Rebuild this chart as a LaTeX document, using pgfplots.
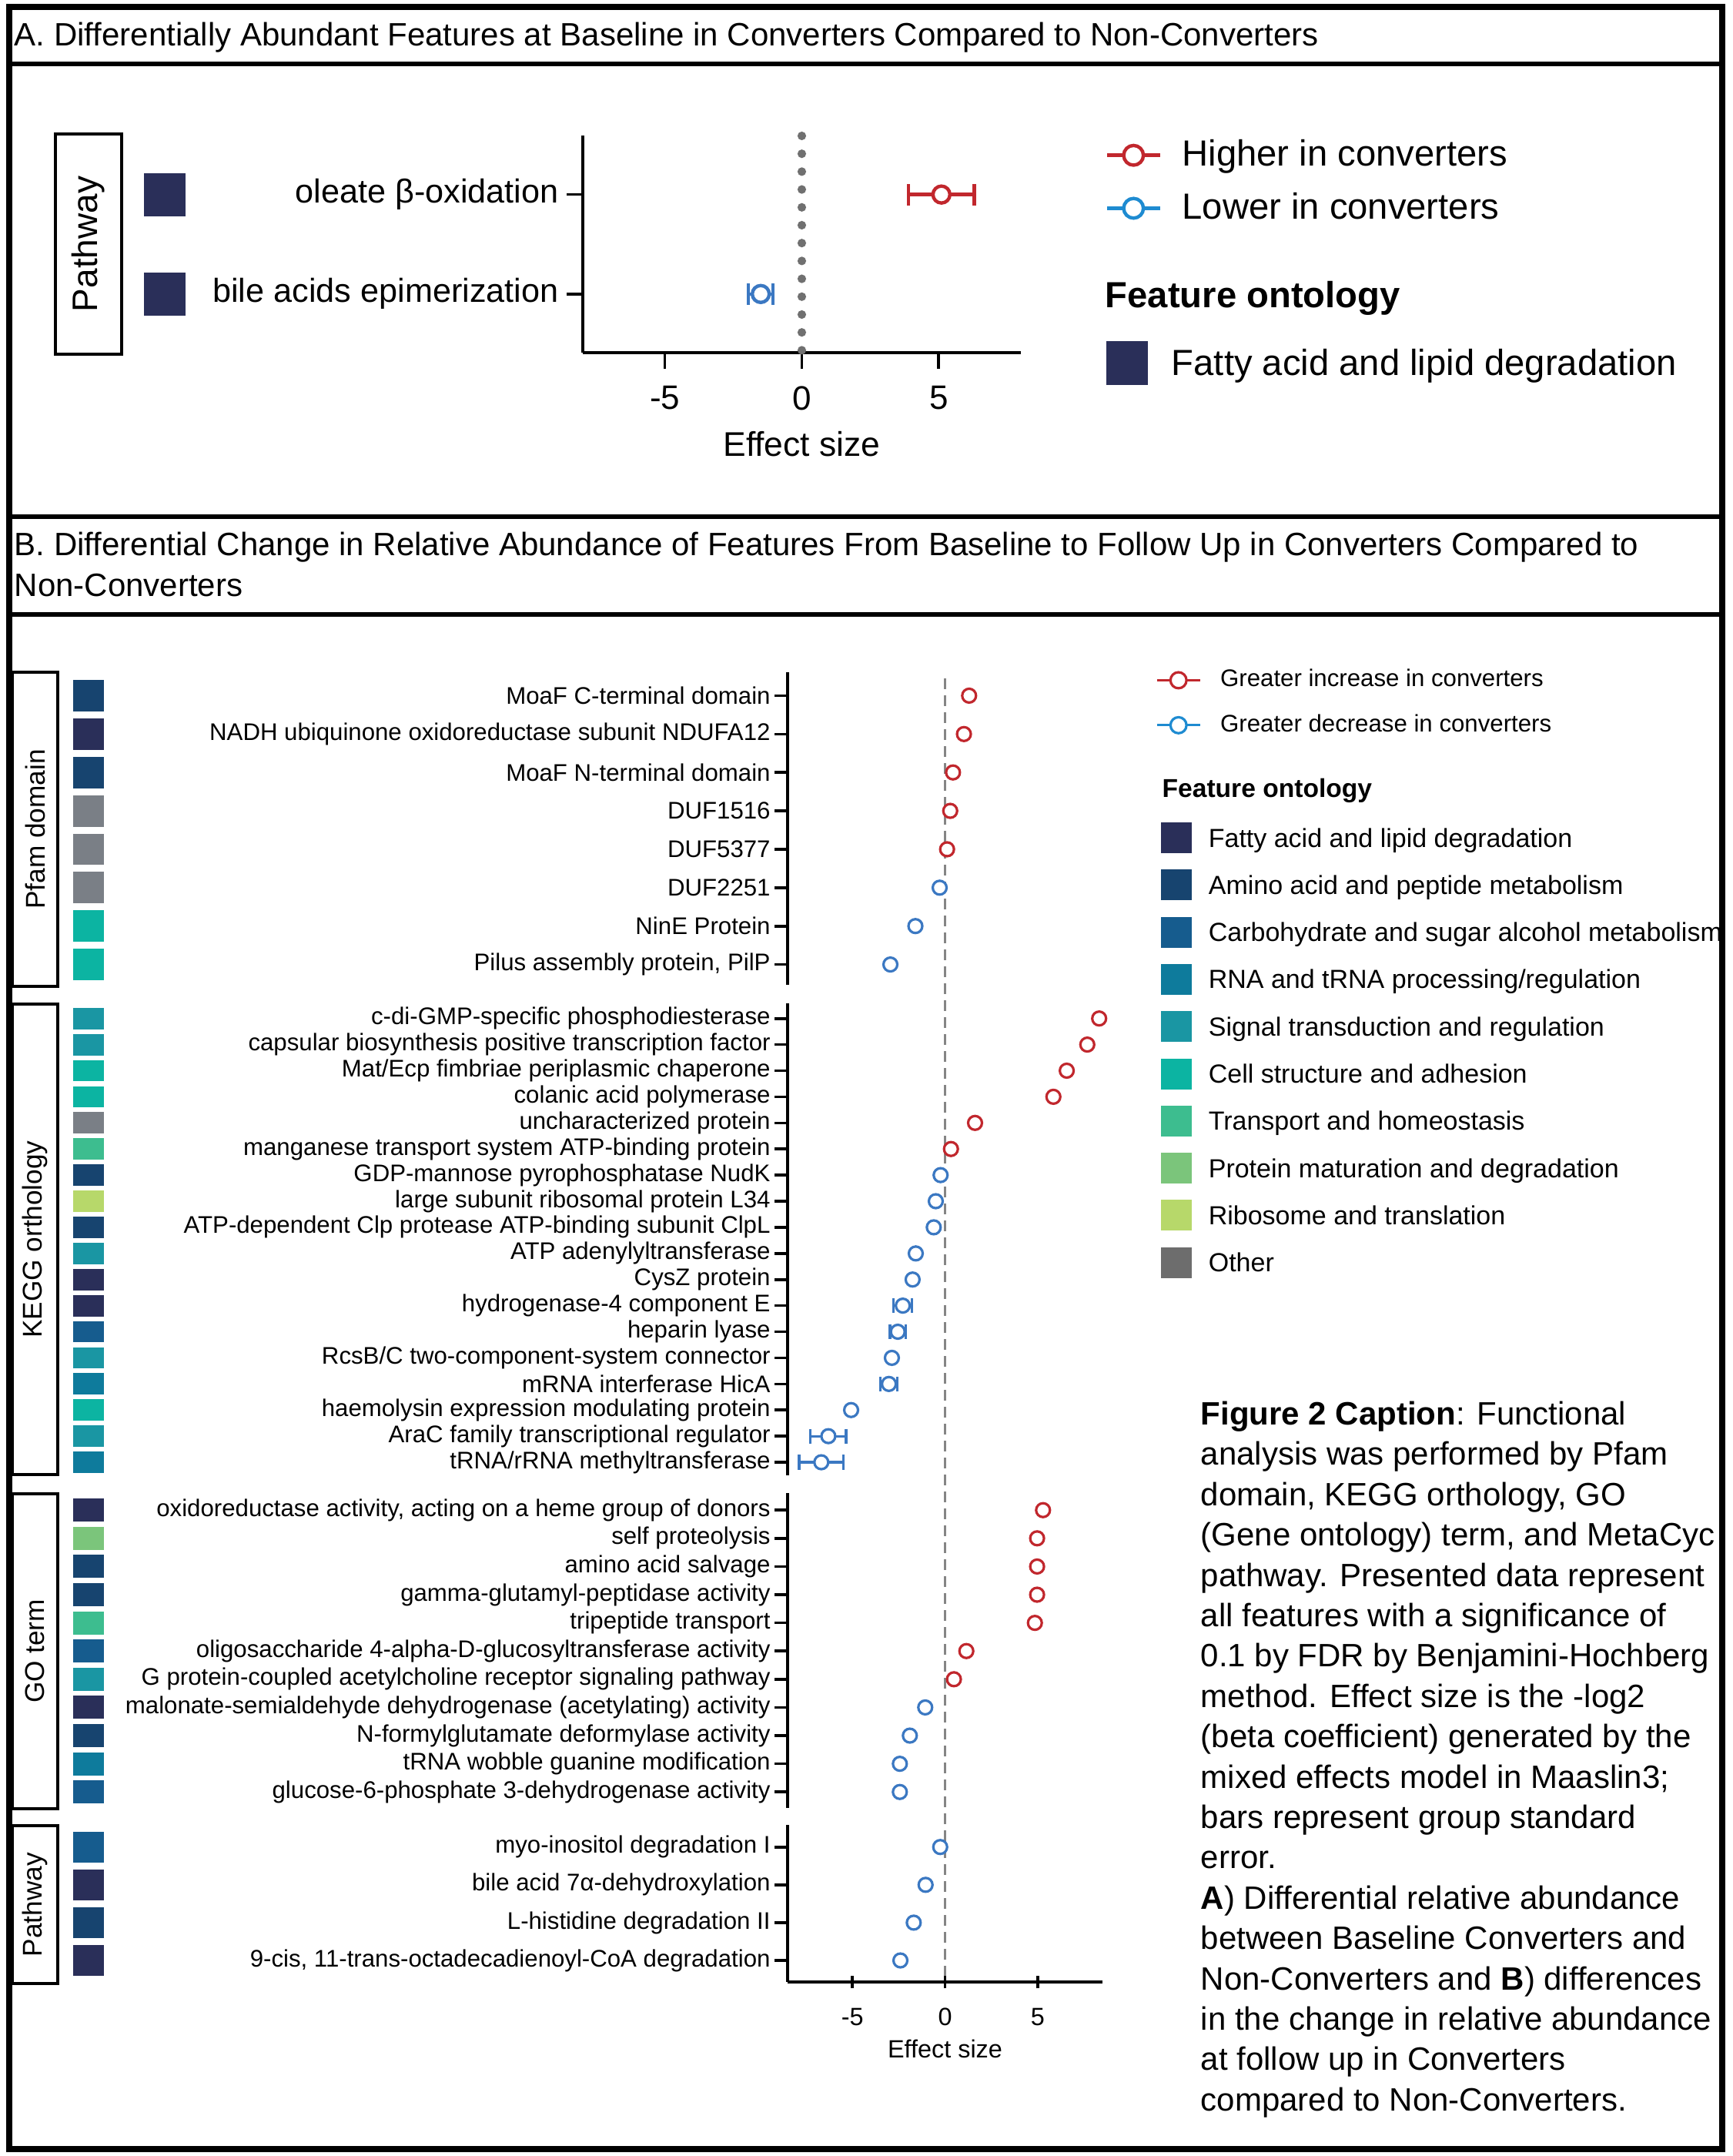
\documentclass[border=0pt]{standalone}
\usepackage{fontspec}
\setmainfont{Liberation Sans}
\usepackage{pgfplots}
\pgfplotsset{compat=1.18}
\definecolor{cred}{HTML}{C1272D}
\definecolor{cblue}{HTML}{3B78C2}
\definecolor{lblue}{HTML}{1E8BD1}
\definecolor{fat}{HTML}{2A2F59}
\definecolor{ami}{HTML}{17446F}
\definecolor{car}{HTML}{165C8E}
\definecolor{rna}{HTML}{0E7B9C}
\definecolor{sig}{HTML}{1A96A3}
\definecolor{cel}{HTML}{0CB4A2}
\definecolor{tra}{HTML}{3DBD8F}
\definecolor{pro}{HTML}{7BC57B}
\definecolor{rib}{HTML}{B7D86A}
\definecolor{oth}{HTML}{7A7F86}
\definecolor{othl}{HTML}{6D6D6D}
\definecolor{dgray}{HTML}{858585}
\definecolor{dotg}{HTML}{707070}
\newcommand{\fs}[2]{\fontsize{#1}{#2}\selectfont}
\newcommand{\swatches}[1]{\foreach \cc [count=\k] in {#1}{\pgfmathsetmacro\ya{\k-0.41}\pgfmathsetmacro\yb{\k+0.41}\edef\tmp{\noexpand\fill[\cc] (axis cs:-47.07,\ya) rectangle (axis cs:-45.41,\yb);}\tmp}}
\pgfplotsset{
 baxis/.style={scale only axis, width=102.25pt, xmin=-8.5, xmax=8.5, clip=false,
   axis y line=left,
   tick align=outside, major tick length=4.2pt, tick style={line width=0.9pt, black},
   yticklabel style={font=\fs{7.8}{9}, inner sep=1.2pt}, anchor=north west},
 upm/.style={only marks, mark=*, mark size=2.25pt, mark options={draw=cred, fill=white, line width=0.8pt}, forget plot},
 dnm/.style={only marks, mark=*, mark size=2.25pt, mark options={draw=cblue, fill=white, line width=0.8pt}, forget plot},
 dnerr/.style={error bars/.cd, x dir=both, x explicit, error mark=|, error bar style={cblue, line width=0.8pt}, error mark options={cblue, line width=0.8pt, mark size=2.4pt}},
}
\begin{document}
\begin{tikzpicture}[x=1pt,y=1pt]
\useasboundingbox (0,0) rectangle (562.5,-700);

% ---------- titles ----------
\node[anchor=base west, inner sep=0, font=\fs{10.5}{12}] at (4.5,-15) {A. Differentially Abundant Features at Baseline in Converters Compared to Non-Converters};
\node[anchor=base west, inner sep=0, font=\fs{10.5}{12}] at (4.5,-180.4) {B. Differential Change in Relative Abundance of Features From Baseline to Follow Up in Converters Compared to};
\node[anchor=base west, inner sep=0, font=\fs{10.5}{12}] at (4.5,-193.75) {Non-Converters};

% ---------- Panel A ----------
\draw[line width=1.2pt] (18,-43.5) rectangle (39.5,-115);
\node[rotate=90, font=\fs{11.5}{13}] at (28.75,-79.25) {Pathway};

\begin{axis}[scale only axis, at={(189.25pt,-44.125pt)}, anchor=north west,
  width=142.25pt, height=70.375pt, xmin=-8, xmax=8, ymin=0.41, ymax=2.59, clip=false,
  axis x line=bottom, axis y line=left,
  tick align=outside, major tick length=5.2pt, tick style={line width=0.9pt, black},
  ytick={1,2}, yticklabels={bile acids epimerization, oleate β-oxidation},
  yticklabel style={font=\fs{10.8}{12}, inner sep=2.5pt},
  xtick={-5,0,5}, xticklabels={-5,0,5}, xticklabel style={font=\fs{11}{13}, yshift=-2.1pt},
  xlabel={Effect size}, xlabel style={font=\fs{11.1}{13}, at={(axis description cs:0.5,-0.478)}, anchor=base, inner sep=0pt},
  legend style={at={(axis description cs:1.1916,0.9847)}, anchor=north west, draw=none, fill=none, inner sep=0pt,
    font=\fs{11.8}{14}, row sep=7.15pt, nodes={inner sep=0pt}, /tikz/every odd column/.append style={column sep=6.6pt}},
  legend cell align=left,
  axis line style={-, line width=0.9pt}]
\draw[dotg, line width=2.8pt, line cap=round, dash pattern=on 0pt off 5.8pt] (axis cs:0,2.59) -- (axis cs:0,0.41);
\fill[fat] (axis cs:-24.04,1.783) rectangle (axis cs:-22.51,2.217);
\fill[fat] (axis cs:-24.04,0.783) rectangle (axis cs:-22.51,1.217);
\addplot[only marks, mark=*, mark size=2.75pt, mark options={draw=cred, fill=white, line width=1.1pt}, forget plot,
  error bars/.cd, x dir=both, x explicit, error mark=|, error bar style={cred, line width=1.1pt}, error mark options={cred, line width=1.1pt, mark size=3.5pt}]
  coordinates {(5.1,2) +- (1.2,0)};
\addplot[only marks, mark=*, mark size=2.75pt, mark options={draw=cblue, fill=white, line width=1.1pt}, forget plot,
  error bars/.cd, x dir=both, x explicit, error mark=|, error bar style={cblue, line width=1.1pt}, error mark options={cblue, line width=1.1pt, mark size=3.5pt}]
  coordinates {(-1.5,1) +- (0.45,0)};
\addlegendimage{legend image code/.code={\draw[cred,line width=1.1pt] (0pt,0pt) -- (17.25pt,0pt); \draw[cred,line width=1.1pt,fill=white] (8.6pt,0pt) circle (3.2pt);}}
\addlegendentry{Higher in converters}
\addlegendimage{legend image code/.code={\draw[lblue,line width=1.1pt] (0pt,0pt) -- (17.25pt,0pt); \draw[lblue,line width=1.1pt,fill=white] (8.6pt,0pt) circle (3.2pt);}}
\addlegendentry{Lower in converters}
\end{axis}

\node[anchor=base west, inner sep=0, font=\fs{11.8}{14}\bfseries] at (358.75,-99.9) {Feature ontology};
\fill[fat] (359.25,-110.75) rectangle (372.75,-125);
\node[anchor=base west, inner sep=0, font=\fs{11.8}{14}] at (380.25,-121.9) {Fatty acid and lipid degradation};

% ---------- Panel B section boxes ----------
\draw[line width=1pt] (4,-218.25) rectangle (18.75,-320.25);
\node[rotate=90, font=\fs{8.8}{10}] at (11.4,-269.25) {Pfam domain};
\draw[line width=1pt] (4,-326) rectangle (18.75,-478.75);
\node[rotate=90, font=\fs{8.8}{10}] at (11.4,-402.4) {KEGG orthology};
\draw[line width=1pt] (4,-485) rectangle (18.75,-587.25);
\node[rotate=90, font=\fs{8.8}{10}] at (11.4,-536.1) {GO term};
\draw[line width=1pt] (4,-592.75) rectangle (18.75,-644);
\node[rotate=90, font=\fs{8.8}{10}] at (11.4,-618.4) {Pathway};

% ---------- Panel B: Pfam ----------
\begin{axis}[baxis, at={(255.75pt,-218.25pt)}, height=101.5pt, ymin=0.47, ymax=8.61, axis x line=none,
  ytick={1,...,8},
  yticklabels={{Pilus assembly protein, PilP}, NinE Protein, DUF2251, DUF5377, DUF1516, MoaF N-terminal domain, NADH ubiquinone oxidoreductase subunit NDUFA12, MoaF C-terminal domain},
  legend style={at={(axis description cs:1.167,1.0115)}, anchor=north west, draw=none, fill=none, inner sep=0pt,
    font=\fs{7.8}{9}, row sep=7.45pt, nodes={inner sep=0pt}, /tikz/every odd column/.append style={column sep=6.2pt}},
  legend cell align=left, axis line style={-, line width=0.9pt}]
\draw[dgray, line width=0.75pt, dash pattern=on 3.5pt off 2pt] (axis cs:0,8.45) -- (axis cs:0,-25.6);
\swatches{cel,cel,oth,oth,oth,ami,fat,ami}
\addplot[upm] coordinates {(1.30,8) (1.02,7) (0.43,6) (0.28,5) (0.11,4)};
\addplot[dnm] coordinates {(-0.29,3) (-1.60,2) (-2.95,1)};
\addlegendimage{legend image code/.code={\draw[cred,line width=0.8pt] (0pt,0pt) -- (14pt,0pt); \draw[cred,line width=0.8pt,fill=white] (7pt,0pt) circle (2.6pt);}}
\addlegendentry{Greater increase in converters}
\addlegendimage{legend image code/.code={\draw[lblue,line width=0.8pt] (0pt,0pt) -- (14pt,0pt); \draw[lblue,line width=0.8pt,fill=white] (7pt,0pt) circle (2.6pt);}}
\addlegendentry{Greater decrease in converters}
\end{axis}

% ---------- Panel B: KEGG ----------
\begin{axis}[baxis, at={(255.75pt,-325.75pt)}, height=153.25pt, ymin=0.5, ymax=18.581, axis x line=none,
  ytick={1,...,18},
  yticklabels={tRNA/rRNA methyltransferase, AraC family transcriptional regulator, haemolysin expression modulating protein, mRNA interferase HicA, RcsB/C two-component-system connector, heparin lyase, hydrogenase-4 component E, CysZ protein, ATP adenylyltransferase, ATP-dependent Clp protease ATP-binding subunit ClpL, large subunit ribosomal protein L34, GDP-mannose pyrophosphatase NudK, manganese transport system ATP-binding protein, uncharacterized protein, colanic acid polymerase, Mat/Ecp fimbriae periplasmic chaperone, capsular biosynthesis positive transcription factor, c-di-GMP-specific phosphodiesterase},
  axis line style={-, line width=0.9pt}]
\swatches{rna,sig,cel,rna,sig,car,fat,fat,sig,ami,rib,ami,tra,oth,cel,cel,sig,sig}
\addplot[upm] coordinates {(8.32,18) (7.68,17) (6.57,16) (5.85,15) (1.62,14) (0.32,13)};
\addplot[dnm] coordinates {(-0.24,12) (-0.50,11) (-0.61,10) (-1.58,9) (-1.75,8) (-2.87,5) (-5.07,3)};
\addplot[dnm, dnerr] coordinates {(-2.28,7) +- (0.50,0) (-2.55,6) +- (0.42,0) (-3.03,4) +- (0.45,0) (-6.30,2) +- (0.96,0) (-6.68,1) +- (1.2,0)};
\end{axis}

% ---------- Panel B: GO ----------
\begin{axis}[baxis, at={(255.75pt,-484.75pt)}, height=102.25pt, ymin=0.432, ymax=11.607, axis x line=none,
  ytick={1,...,11},
  yticklabels={glucose-6-phosphate 3-dehydrogenase activity, tRNA wobble guanine modification, N-formylglutamate deformylase activity, malonate-semialdehyde dehydrogenase (acetylating) activity, G protein-coupled acetylcholine receptor signaling pathway, oligosaccharide 4-alpha-D-glucosyltransferase activity, tripeptide transport, gamma-glutamyl-peptidase activity, amino acid salvage, self proteolysis, {oxidoreductase activity, acting on a heme group of donors}},
  axis line style={-, line width=0.9pt}]
\swatches{car,rna,ami,fat,sig,car,tra,ami,ami,pro,fat}
\addplot[upm] coordinates {(5.29,11) (4.97,10) (4.97,9) (4.97,8) (4.85,7) (1.15,6) (0.48,5)};
\addplot[dnm] coordinates {(-1.07,4) (-1.90,3) (-2.44,2) (-2.44,1)};
\end{axis}

% ---------- Panel B: Pathway ----------
\begin{axis}[baxis, at={(255.75pt,-592.5pt)}, height=51pt, ymin=0.43, ymax=4.5845, axis x line=bottom,
  ytick={1,...,4},
  yticklabels={{9-cis, 11-trans-octadecadienoyl-CoA degradation}, L-histidine degradation II, bile acid 7α-dehydroxylation, myo-inositol degradation I},
  xtick={-5,0,5}, xticklabels={-5,0,5}, xticklabel style={font=\fs{8.1}{10}, yshift=-2.85pt},
  xlabel={Effect size}, xlabel style={font=\fs{8.1}{10}, at={(axis description cs:0.5,-0.482)}, anchor=base, inner sep=0pt},
  axis line style={-, line width=0.9pt}]
\swatches{fat,ami,fat,car}
\addplot[dnm] coordinates {(-0.26,4) (-1.05,3) (-1.69,2) (-2.41,1)};
\end{axis}

% ---------- Panel B ontology legend ----------
\node[anchor=base west, inner sep=0, font=\fs{8.4}{10}\bfseries] at (377.2,-258.9) {Feature ontology};
\foreach \cc/\lab [count=\k] in {fat/Fatty acid and lipid degradation, ami/Amino acid and peptide metabolism, car/Carbohydrate and sugar alcohol metabolism, rna/{RNA and tRNA processing/regulation}, sig/Signal transduction and regulation, cel/Cell structure and adhesion, tra/Transport and homeostasis, pro/Protein maturation and degradation, rib/Ribosome and translation, othl/Other}{
  \pgfmathsetmacro\yc{-(272+15.325*(\k-1))}
  \pgfmathsetmacro\ya{\yc+5}\pgfmathsetmacro\yb{\yc-5}\pgfmathsetmacro\yt{\yc-3}
  \fill[\cc] (376.9,\ya) rectangle (387,\yb);
  \node[anchor=base west, inner sep=0, font=\fs{8.5}{10}] at (392.25,\yt) {\lab};
}

% ---------- caption ----------
\node[anchor=north west, inner sep=0, align=left, font=\fs{10.5}{13.1}] at (389.75,-454.8) {%
\textbf{Figure 2 Caption}: Functional\\
analysis was performed by Pfam\\
domain, KEGG orthology, GO\\
(Gene ontology) term, and MetaCyc\\
pathway. Presented data represent\\
all features with a significance of\\
0.1 by FDR by Benjamini-Hochberg\\
method. Effect size is the -log2\\
(beta coefficient) generated by the\\
mixed effects model in Maaslin3;\\
bars represent group standard\\
error.\\
\textbf{A}) Differential relative abundance\\
between Baseline Converters and\\
Non-Converters and \textbf{B}) differences\\
in the change in relative abundance\\
at follow up in Converters\\
compared to Non-Converters.};

% ---------- frame ----------
\draw[line width=1.4pt] (3,-20.75) -- (559.25,-20.75);
\draw[line width=1.4pt] (3,-167.75) -- (559.25,-167.75);
\draw[line width=1.4pt] (3,-199.5) -- (559.25,-199.5);
\draw[line width=1.8pt] (3,-2.25) rectangle (559.25,-697.75);
\end{tikzpicture}
\end{document}
